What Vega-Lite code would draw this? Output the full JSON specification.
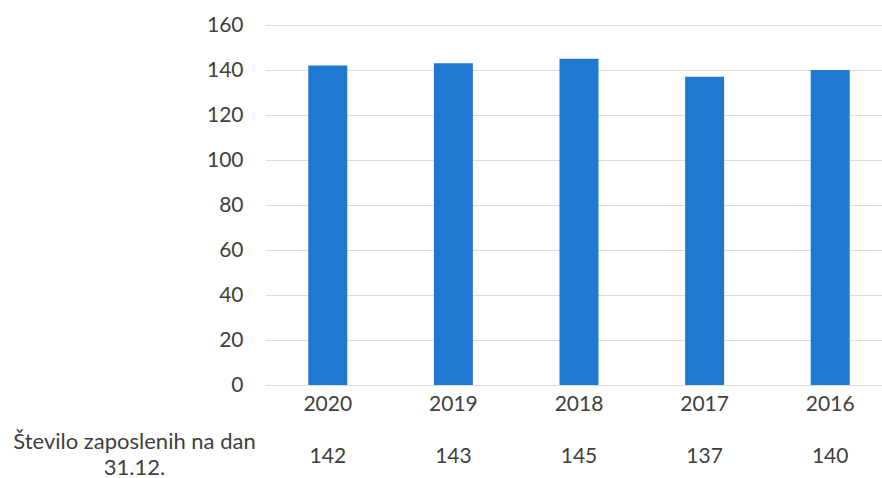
{
  "$schema": "https://vega.github.io/schema/vega-lite/v6.json",
  "padding": {"left": 12, "top": 14, "right": 0, "bottom": 0},
  "background": "white",
  "config": {
    "view": {"stroke": null},
    "font": "Lato",
    "text": {"font": "Lato"},
    "axis": {"labelFont": "Lato", "labelColor": "#404040", "labelFontSize": 21, "domain": false, "ticks": false, "title": null}
  },
  "data": {"values": [
    {"year": "2020", "value": 142, "metric": "Število zaposlenih na dan 31.12."},
    {"year": "2019", "value": 143, "metric": "Število zaposlenih na dan 31.12."},
    {"year": "2018", "value": 145, "metric": "Število zaposlenih na dan 31.12."},
    {"year": "2017", "value": 137, "metric": "Število zaposlenih na dan 31.12."},
    {"year": "2016", "value": 140, "metric": "Število zaposlenih na dan 31.12."}
  ]},
  "spacing": 16,
  "vconcat": [
    {
      "width": 617,
      "height": 360,
      "mark": {"type": "bar", "color": "#2079d0", "size": 39},
      "encoding": {
        "x": {"field": "year", "type": "nominal", "sort": null,
              "scale": {"range": [0, 628], "paddingInner": 0, "paddingOuter": 0},
              "axis": {"labelAngle": 0, "labelPadding": 8, "grid": false}},
        "y": {"field": "value", "type": "quantitative",
              "scale": {"domain": [0, 160]},
              "axis": {"values": [0, 20, 40, 60, 80, 100, 120, 140, 160], "grid": true, "gridColor": "#dddddd", "gridWidth": 1, "labelPadding": 22}}
      }
    },
    {
      "width": 617,
      "height": 44,
      "mark": {"type": "text", "fontSize": 21, "color": "#404040"},
      "encoding": {
        "x": {"field": "year", "type": "nominal", "sort": null,
              "scale": {"range": [0, 628], "paddingInner": 0, "paddingOuter": 0},
              "axis": null},
        "y": {"field": "metric", "type": "nominal",
              "axis": {"labelExpr": "[slice(datum.label, 0, 25), slice(datum.label, 26)]", "labelAlign": "center", "labelPadding": 131, "labelLimit": 0, "labelFontSize": 22, "labelLineHeight": 26, "labelOffset": -16, "grid": false}},
        "text": {"field": "value", "type": "quantitative"}
      }
    }
  ]
}
